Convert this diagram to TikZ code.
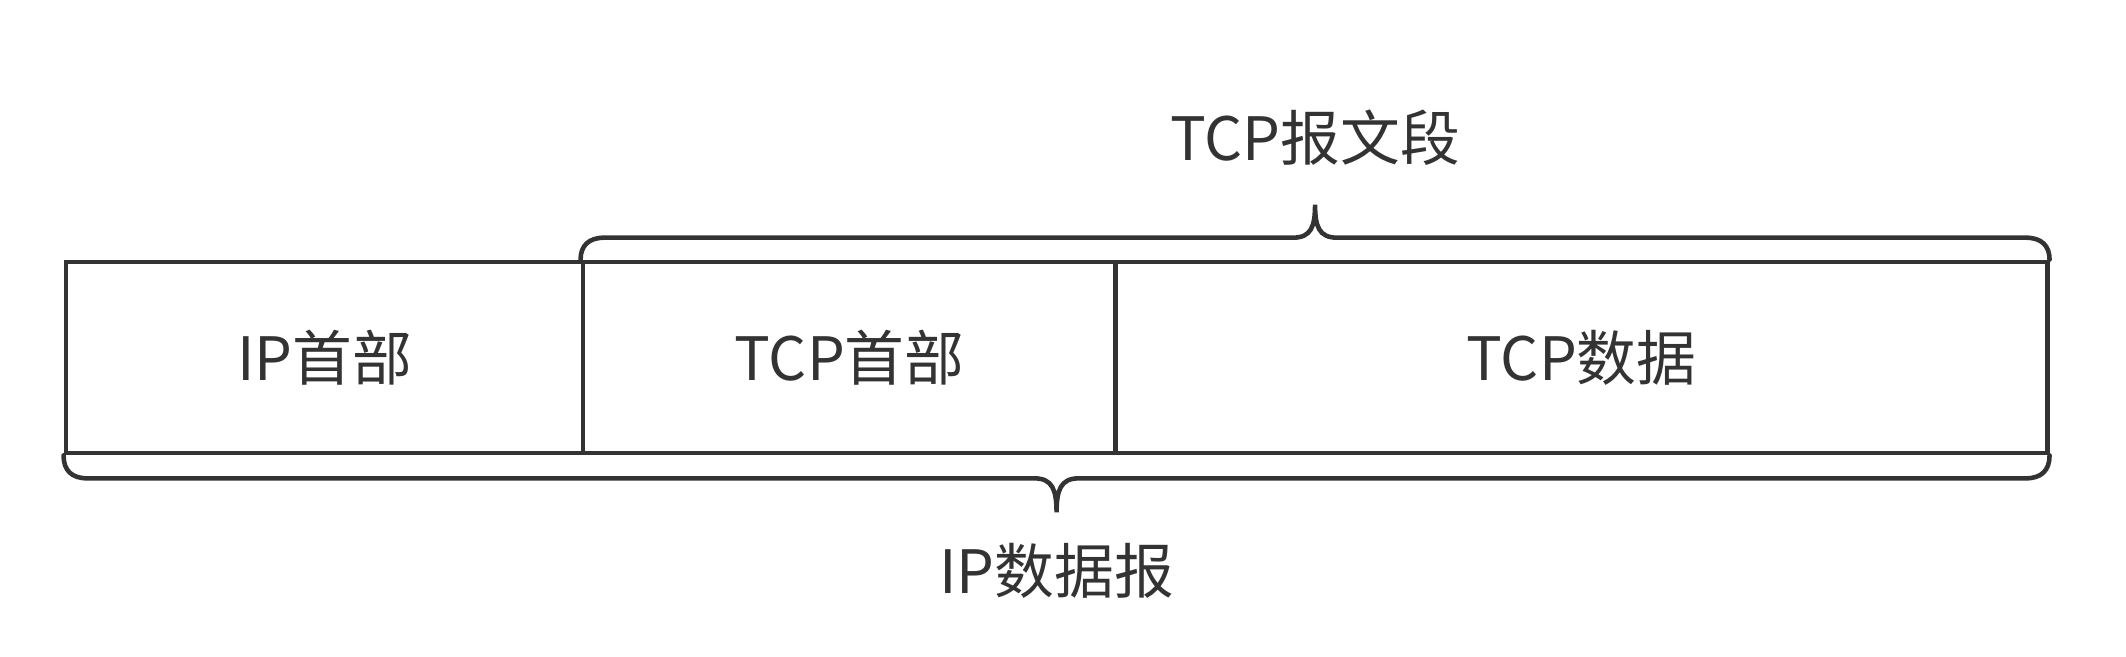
\documentclass[tikz,border=0pt]{standalone}
\usepackage{fontspec}
\setmainfont{Noto Sans CJK SC}
\usetikzlibrary{calc}
\definecolor{linegray}{HTML}{333333}
\tikzset{
  cell/.style={draw=linegray, line width=1.3pt, rectangle, inner sep=0pt,
    minimum height=1.91cm, text=linegray, font=\fontsize{17pt}{20pt}\selectfont},
  bracket/.style={draw=linegray, line width=1.3pt, line cap=round},
  caption/.style={text=linegray, font=\fontsize{17pt}{20pt}\selectfont}
}
\begin{document}
\begin{tikzpicture}[x=0.01cm, y=0.01cm]
\useasboundingbox (0,0) rectangle (2126,656);

% Cells of the datagram
\node[cell, minimum width=5.17cm] (iph) at (324.5,298.5) {IP首部};
\node[cell, minimum width=5.33cm] (tcph) at (849.5,298.5) {TCP首部};
\node[cell, minimum width=9.31cm] (tcpd) at (1581.5,298.5) {TCP数据};

% Tips of the braces
\coordinate (tcptip) at ($(tcph.north west)!0.5!(tcpd.north east) + (0,55)$);
\coordinate (iptip) at ($(iph.south west)!0.5!(tcpd.south east) + (0,-57)$);

% Top brace
\draw[bracket] (tcph.north west)
  .. controls ($(tcph.north west)+(0,14)$) and ($(tcph.north west)+(8,22)$) .. ($(tcph.north west)+(24,22)$)
  -- ($(tcptip)+(-22,-33)$)
  .. controls ($(tcptip)+(-4,-33)$) and ($(tcptip)+(0,-22)$) .. (tcptip)
  .. controls ($(tcptip)+(0,-22)$) and ($(tcptip)+(4,-33)$) .. ($(tcptip)+(22,-33)$)
  -- ($(tcpd.north east)+(-24,22)$)
  .. controls ($(tcpd.north east)+(-8,22)$) and ($(tcpd.north east)+(0,14)$) .. (tcpd.north east);

% Bottom brace
\draw[bracket] (iph.south west)
  .. controls ($(iph.south west)+(0,-15)$) and ($(iph.south west)+(8,-23)$) .. ($(iph.south west)+(24,-23)$)
  -- ($(iptip)+(-22,34)$)
  .. controls ($(iptip)+(-4,34)$) and ($(iptip)+(0,22)$) .. (iptip)
  .. controls ($(iptip)+(0,22)$) and ($(iptip)+(4,34)$) .. ($(iptip)+(22,34)$)
  -- ($(tcpd.south east)+(-24,-23)$)
  .. controls ($(tcpd.south east)+(-8,-23)$) and ($(tcpd.south east)+(0,-15)$) .. (tcpd.south east);

% Labels
\node[caption] (tcpseg) at ($(tcptip)+(0,67)$) {TCP报文段};
\node[caption] (ipdgram) at ($(iptip)+(0,-58)$) {IP数据报};

\end{tikzpicture}
\end{document}
